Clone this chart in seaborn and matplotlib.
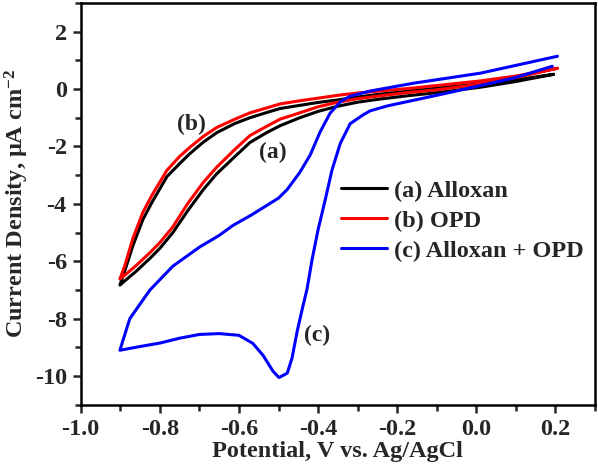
import numpy as np
import pandas as pd
import matplotlib
matplotlib.use("Agg")
import matplotlib.pyplot as plt
from matplotlib.ticker import MultipleLocator
import seaborn as sns

# CV loops (potential in V, current density in uA cm^-2)
alloxan_v = [0.195, 0.10, 0.01, -0.10, -0.17, -0.243, -0.30, -0.35, -0.40, -0.446, -0.496, -0.53, -0.572, -0.61,
             -0.656, -0.69, -0.73, -0.767, -0.80, -0.825, -0.86, -0.89, -0.901,
             -0.889, -0.868, -0.843, -0.82, -0.782, -0.75, -0.724, -0.69, -0.656, -0.61, -0.572, -0.53, -0.496,
             -0.446, -0.40, -0.35, -0.30, -0.243, -0.17, -0.10, 0.01, 0.10, 0.195]
alloxan_i = [0.51, 0.26, 0.06, -0.13, -0.23, -0.35, -0.46, -0.60, -0.78, -1.0, -1.28, -1.52, -1.86, -2.35,
             -2.95, -3.5, -4.25, -5.0, -5.55, -5.9, -6.35, -6.7, -6.83,
             -6.35, -5.45, -4.55, -3.95, -3.05, -2.6, -2.25, -1.85, -1.52, -1.2, -1.0, -0.82, -0.68,
             -0.57, -0.47, -0.38, -0.28, -0.18, -0.07, 0.03, 0.18, 0.32, 0.51]

opd_v = [0.205, 0.10, 0.01, -0.10, -0.17, -0.243, -0.30, -0.35, -0.40, -0.446, -0.496, -0.53, -0.572, -0.61,
         -0.656, -0.69, -0.73, -0.767, -0.80, -0.825, -0.86, -0.89, -0.901,
         -0.889, -0.868, -0.843, -0.82, -0.782, -0.75, -0.724, -0.69, -0.656, -0.61, -0.572, -0.53, -0.496,
         -0.446, -0.40, -0.35, -0.30, -0.243, -0.17, -0.10, 0.01, 0.10, 0.205]
opd_i = [0.72, 0.40, 0.17, -0.03, -0.12, -0.24, -0.34, -0.46, -0.62, -0.83, -1.05, -1.3, -1.62, -2.1,
         -2.72, -3.25, -4.0, -4.8, -5.35, -5.7, -6.15, -6.5, -6.62,
         -6.17, -5.2, -4.3, -3.7, -2.83, -2.35, -2.03, -1.65, -1.34, -1.05, -0.83, -0.66, -0.52,
         -0.41, -0.32, -0.22, -0.14, -0.07, 0.02, 0.12, 0.28, 0.45, 0.72]

mix_v = [0.192, 0.094, -0.073, -0.225, -0.268, -0.286, -0.319, -0.344, -0.365, -0.382, -0.40, -0.415, -0.428,
         -0.44, -0.453, -0.466, -0.478, -0.499, -0.514, -0.539, -0.565, -0.60, -0.65, -0.70, -0.75, -0.80,
         -0.85, -0.901,
         -0.876, -0.825, -0.767, -0.699, -0.65, -0.615, -0.57, -0.529, -0.50, -0.478, -0.446, -0.42, -0.395,
         -0.37, -0.344, -0.319, -0.268, -0.159, 0.01, 0.205]
mix_i = [0.79, 0.38, -0.14, -0.59, -0.76, -0.90, -1.21, -1.9, -2.83, -3.86, -4.9, -5.93, -6.97,
         -7.66, -8.45, -9.38, -9.9, -10.05, -9.83, -9.28, -8.86, -8.58, -8.52, -8.55, -8.68, -8.85,
         -8.97, -9.10,
         -8.0, -7.0, -6.17, -5.5, -5.1, -4.75, -4.4, -4.05, -3.8, -3.5, -2.9, -2.3, -1.5,
         -0.85, -0.45, -0.25, -0.07, 0.2, 0.55, 1.14]

labels = ["(a) Alloxan", "(b) OPD", "(c) Alloxan + OPD"]
colors = ["#000000", "#ff0000", "#0000ff"]

sns.set_theme(style="ticks")
plt.rcParams["font.family"] = ["Liberation Serif", "DejaVu Serif"]
plt.rcParams["font.weight"] = "bold"
plt.rcParams["axes.labelweight"] = "bold"
plt.rcParams["mathtext.fontset"] = "custom"
plt.rcParams["mathtext.rm"] = "Liberation Serif:bold"
plt.rcParams["mathtext.default"] = "rm"

fig = plt.figure(figsize=(5.98, 4.74), dpi=100)
ax = fig.add_axes([0.135, 0.146, 0.86, 0.848])

for v, i, lab, c in zip([alloxan_v, opd_v, mix_v], [alloxan_i, opd_i, mix_i], labels, colors):
    df = pd.DataFrame({"v": v, "i": i})
    sns.lineplot(data=df, x="v", y="i", sort=False, estimator=None, color=c, lw=2.2, label=lab, ax=ax)

ax.set_xlim(-1.0, 0.3)
ax.set_ylim(-11, 3)
ax.xaxis.set_minor_locator(MultipleLocator(0.1))
ax.yaxis.set_minor_locator(MultipleLocator(1))
ax.set_xticks(np.arange(-1.0, 0.21, 0.2))
ax.set_xticklabels(["-1.0", "-0.8", "-0.6", "-0.4", "-0.2", "0.0", "0.2"])
ax.set_yticks(np.arange(-10, 3, 2))
ax.set_yticklabels(["-10", "-8", "-6", "-4", "-2", "0", "2"])
ax.tick_params(which="major", direction="out", length=6, width=1.8, labelsize=17.5, pad=4)
ax.tick_params(which="minor", direction="out", length=4, width=1.8)
for s in ax.spines.values():
    s.set_linewidth(1.8)
    s.set_color("black")

ax.set_xlabel("Potential, V vs. Ag/AgCl", fontsize=17.5, fontweight="bold", labelpad=1)
ax.set_ylabel("Current Density, μA cm$^{-2}$", fontsize=17.5, fontweight="bold", labelpad=3)

ax.text(-0.72, -1.22, "(b)", fontsize=17, fontweight="bold", ha="center", va="center")
ax.text(-0.514, -2.2, "(a)", fontsize=17, fontweight="bold", ha="center", va="center")
ax.text(-0.403, -8.6, "(c)", fontsize=17, fontweight="bold", ha="center", va="center")

leg = ax.legend(loc="upper left", bbox_to_anchor=(0.506, 0.56), frameon=False, fontsize=17.5,
                handlelength=1.9, handletextpad=0.3, labelspacing=0.33, borderaxespad=0, borderpad=0)

fig.savefig("out.png", dpi=100)
